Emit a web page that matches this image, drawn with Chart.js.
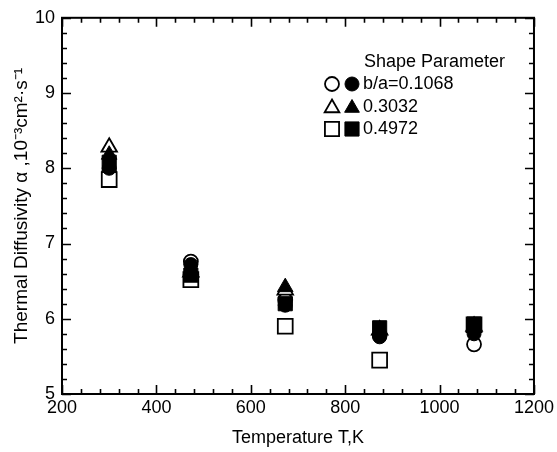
<!DOCTYPE html>
<html>
<head>
<meta charset="utf-8">
<script src="https://cdn.jsdelivr.net/npm/chart.js@4/dist/chart.umd.min.js"></script>
<style>
  html, body { margin: 0; padding: 0; background: #fff; }
  #wrap { width: 557px; height: 452px; position: relative; }
</style>
</head>
<body>
<div id="wrap"><canvas id="c" width="557" height="452"></canvas></div>
<script>
// ---- Data ----
const temperatures = [300, 473, 673, 873, 1073];           // K
const openCircle     = [7.95, 6.76, 6.25, 5.78, 5.66];       // b/a = 0.1068 (open)
const filledCircle   = [8.00, 6.72, 6.18, 5.76, 5.80];       // b/a = 0.1068 (filled)
const openTriangle   = [8.28, 6.62, 6.38, 5.85, 5.90];       // 0.3032 (open)
const filledTriangle = [8.18, 6.65, 6.42, 5.85, 5.88];       // 0.3032 (filled)
const openSquare     = [7.85, 6.52, 5.90, 5.45, 5.92];       // 0.4972 (open)
const filledSquare   = [8.08, 6.58, 6.20, 5.88, 5.93];       // 0.4972 (filled)

const legendTitle = 'Shape Parameter';
const legendLabels = ['b/a=0.1068', '0.3032', '0.4972'];
const legendShapes = ['circle', 'triangle', 'rect'];

const xTicks = [200, 400, 600, 800, 1000, 1200];
const yTicks = [5, 6, 7, 8, 9, 10];

const FONT = "'Liberation Sans', Arial, Helvetica, sans-serif";

function pts(vals) { return temperatures.map((t, i) => ({x: t, y: vals[i]})); }

function ds(label, vals, shape, filled, r, order) {
  return {
    label, data: pts(vals), showLine: false, order,
    pointStyle: shape, pointRadius: r, pointHoverRadius: r,
    pointBackgroundColor: filled ? '#000' : '#fff',
    pointBorderColor: '#000', pointBorderWidth: filled ? 1 : 1.8
  };
}

const frameTicks = {
  id: 'frameTicks',
  afterDatasetsDraw(chart) {
    const ctx = chart.ctx, a = chart.chartArea;
    const xs = chart.scales.x, ys = chart.scales.y;
    ctx.save();
    ctx.strokeStyle = '#000';
    ctx.lineWidth = 2;
    ctx.strokeRect(a.left, a.top, a.right - a.left, a.bottom - a.top);
    ctx.lineWidth = 1.6;
    const major = 9, minor = 5;
    for (let v = 200; v <= 1200; v += 40) {
      const p = Math.round(xs.getPixelForValue(v)) + 0.5;
      const L = (v % 200 === 0) ? major : minor;
      ctx.beginPath();
      ctx.moveTo(p, a.bottom); ctx.lineTo(p, a.bottom - L);
      ctx.moveTo(p, a.top); ctx.lineTo(p, a.top + L);
      ctx.stroke();
    }
    for (let k = 0; k <= 25; k++) {
      const v = 5 + k * 0.2;
      const p = Math.round(ys.getPixelForValue(v)) + 0.5;
      const L = (k % 5 === 0) ? major : minor;
      ctx.beginPath();
      ctx.moveTo(a.left, p); ctx.lineTo(a.left + L, p);
      ctx.moveTo(a.right, p); ctx.lineTo(a.right - L, p);
      ctx.stroke();
    }
    ctx.restore();
  }
};

function drawMarker(ctx, shape, x, y, r, filled) {
  ctx.save();
  ctx.strokeStyle = '#000';
  ctx.fillStyle = filled ? '#000' : '#fff';
  ctx.lineWidth = filled ? 1 : 1.8;
  if (Chart.helpers && Chart.helpers.drawPoint) {
    Chart.helpers.drawPoint(ctx, {pointStyle: shape, radius: r, rotation: 0, borderWidth: ctx.lineWidth}, x, y);
  } else {
    ctx.beginPath();
    if (shape === 'circle') ctx.arc(x, y, r, 0, Math.PI * 2);
    else if (shape === 'triangle') {
      ctx.moveTo(x, y - r);
      ctx.lineTo(x + r * Math.sin(2 * Math.PI / 3), y - r * Math.cos(2 * Math.PI / 3));
      ctx.lineTo(x - r * Math.sin(2 * Math.PI / 3), y - r * Math.cos(2 * Math.PI / 3));
      ctx.closePath();
    } else {
      const s = r * Math.SQRT1_2; ctx.rect(x - s, y - s, 2 * s, 2 * s);
    }
    ctx.fill(); ctx.stroke();
  }
  ctx.restore();
}

const customLegend = {
  id: 'customLegend',
  afterDraw(chart) {
    const ctx = chart.ctx;
    ctx.save();
    ctx.fillStyle = '#000';
    ctx.font = '18px ' + FONT;
    ctx.textBaseline = 'middle';
    ctx.textAlign = 'left';
    ctx.fillText(legendTitle, 364, 62);
    const rows = [84, 107, 129];
    const radii = {circle: 7, triangle: 8.5, rect: 10};
    legendLabels.forEach((lab, i) => {
      const sh = legendShapes[i];
      drawMarker(ctx, sh, 332, rows[i] + (sh === 'triangle' ? 1 : 0), radii[sh], false);
      drawMarker(ctx, sh, 352, rows[i] + (sh === 'triangle' ? 1 : 0), radii[sh], true);
      ctx.fillText(lab, 363, rows[i]);
    });
    ctx.restore();
  }
};

new Chart(document.getElementById('c'), {
  type: 'scatter',
  data: {
    datasets: [
      ds('b/a=0.1068 open', openCircle, 'circle', false, 7, 6),
      ds('0.3032 open', openTriangle, 'triangle', false, 9, 5),
      ds('0.4972 open', openSquare, 'rect', false, 10.5, 4),
      ds('0.4972 filled', filledSquare, 'rect', true, 10, 3),
      ds('0.3032 filled', filledTriangle, 'triangle', true, 9, 2),
      ds('b/a=0.1068 filled', filledCircle, 'circle', true, 7, 1)
    ]
  },
  options: {
    responsive: false,
    animation: false,
    devicePixelRatio: 1,
    layout: { padding: { left: 0, right: 17, top: 15, bottom: 0 } },
    plugins: { legend: { display: false }, tooltip: { enabled: false } },
    scales: {
      x: {
        type: 'linear', min: 200, max: 1200,
        afterBuildTicks: s => { s.ticks = xTicks.map(v => ({value: v})); },
        afterFit: s => { s.height = 58; },
        grid: { display: false, drawTicks: false },
        border: { display: false },
        ticks: { color: '#000', font: { family: FONT, size: 18 }, padding: 3, maxRotation: 0,
                 callback: v => String(v) },
        title: { display: true, text: 'Temperature T,K', color: '#000',
                 font: { family: FONT, size: 18 }, padding: { top: 0, bottom: 3 } }
      },
      y: {
        type: 'linear', min: 5, max: 10,
        afterBuildTicks: s => { s.ticks = yTicks.map(v => ({value: v})); },
        afterFit: s => { s.width = 62; },
        grid: { display: false, drawTicks: false },
        border: { display: false },
        ticks: { color: '#000', font: { family: FONT, size: 18 }, padding: 7,
                 callback: v => String(v) },
        title: { display: true, text: 'Thermal Diffusivity \u03B1 ,10\u207B\u00B3cm\u00B2\u00B7s\u207B\u00B9', color: '#000',
                 font: { family: FONT, size: 19 }, padding: { top: 10, bottom: 0 } }
      }
    }
  },
  plugins: [frameTicks, customLegend]
});
</script>
</body>
</html>
